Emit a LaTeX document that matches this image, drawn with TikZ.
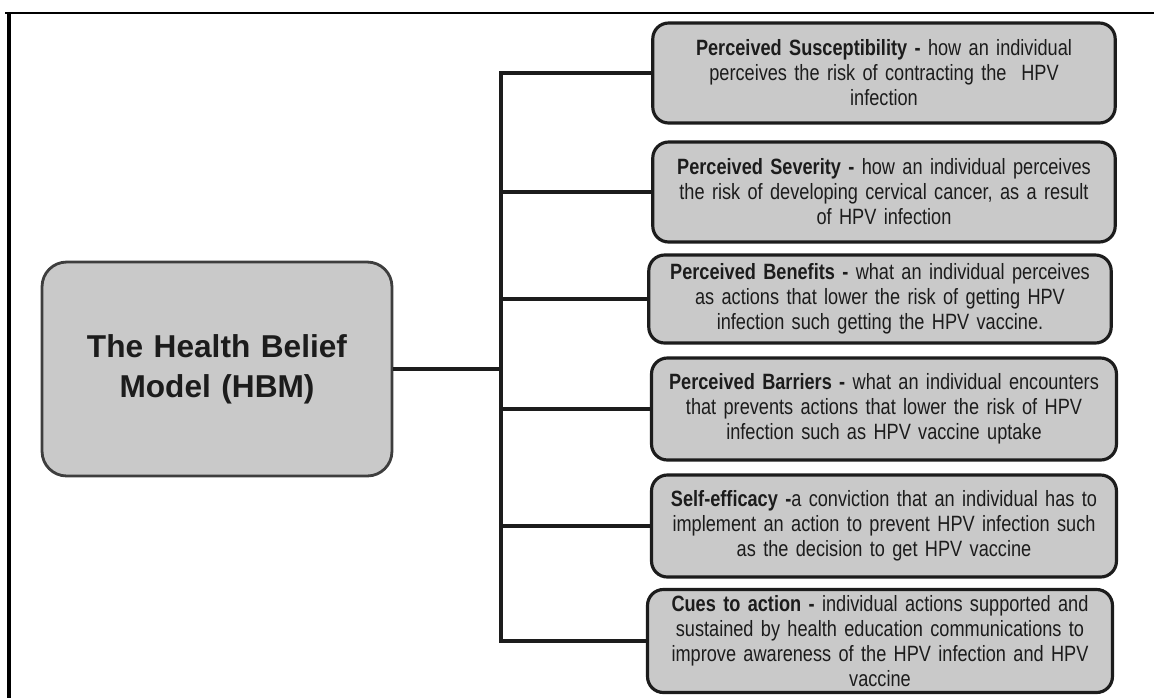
\documentclass[tikz,border=0pt]{standalone}
\usepackage{fontspec}
\setmainfont[FakeStretch=0.82]{Liberation Sans}
\newfontfamily\titlefont{Liberation Sans}
\definecolor{Shade}{HTML}{C9C9C9}
\definecolor{Ink}{HTML}{1C1C1C}
\definecolor{Rim}{HTML}{3E3E3E}

\begin{document}
\begin{tikzpicture}[x=0.02cm,y=-0.02cm,
  every node/.style={text=Ink},
  factor/.style={draw=Ink,line width=1.8pt,fill=Shade,rounded corners=9pt,
    minimum width=9.25cm,minimum height=2cm,text width=9cm,align=center,
    inner sep=1pt,font=\fontsize{12.6}{14.2}\selectfont},
  hub/.style={draw=Rim,line width=1.6pt,fill=Shade,rounded corners=14pt,
    minimum width=7cm,minimum height=4.28cm,text width=6.6cm,align=center,
    font=\titlefont\fontsize{18}{22.7}\selectfont\bfseries},
  link/.style={draw=Ink,line width=1.8pt}]
\useasboundingbox (0,0) rectangle (1154,698);
\draw[line width=1.1pt] (5,13)--(1154,13);
\draw[line width=1.8pt] (9,13)--(9,698);
% model box
\node[hub] (hbm) at (217,369) {The Health Belief\\Model (HBM)};
% the six constructs
\node[factor] (sus) at (884,73) {\textbf{Perceived Susceptibility -} how an individual\\perceives the risk of contracting the\ \ HPV\\infection};
\node[factor] (sev) at (884,192) {\textbf{Perceived Severity -} how an individual perceives\\the risk of developing cervical cancer, as a result\\of HPV infection};
\node[factor,minimum height=1.76cm] (ben) at (880,299) {\textbf{Perceived Benefits -} what an individual perceives\\as actions that lower the risk of getting HPV\\infection such getting the HPV vaccine.};
\node[factor,minimum width=9.3cm,minimum height=2.04cm] (bar) at (884,409) {\textbf{Perceived Barriers -} what an individual encounters\\that prevents actions that lower the risk of HPV\\infection such as HPV vaccine uptake};
\node[factor,minimum width=9.3cm,minimum height=2.04cm] (eff) at (884,526) {\textbf{Self-efficacy -}a conviction that an individual has to\\implement an action to prevent HPV infection such\\as the decision to get HPV vaccine};
\node[factor,minimum width=9.3cm,minimum height=2.06cm] (cue) at (880,641) {\textbf{Cues to action -} individual actions supported and\\sustained by health education communications to\\improve awareness of the HPV infection and HPV\\vaccine};
% spine and branches
\coordinate (spine) at (501,0);
\draw[link] (hbm.east) -- (hbm.east -| spine);
\draw[link] (sus.west) -- (sus.west -| spine) -- (cue.west -| spine) -- (cue.west);
\foreach \n in {sev,ben,bar,eff}
  \draw[link] (\n.west) -- (\n.west -| spine);
\end{tikzpicture}
\end{document}
